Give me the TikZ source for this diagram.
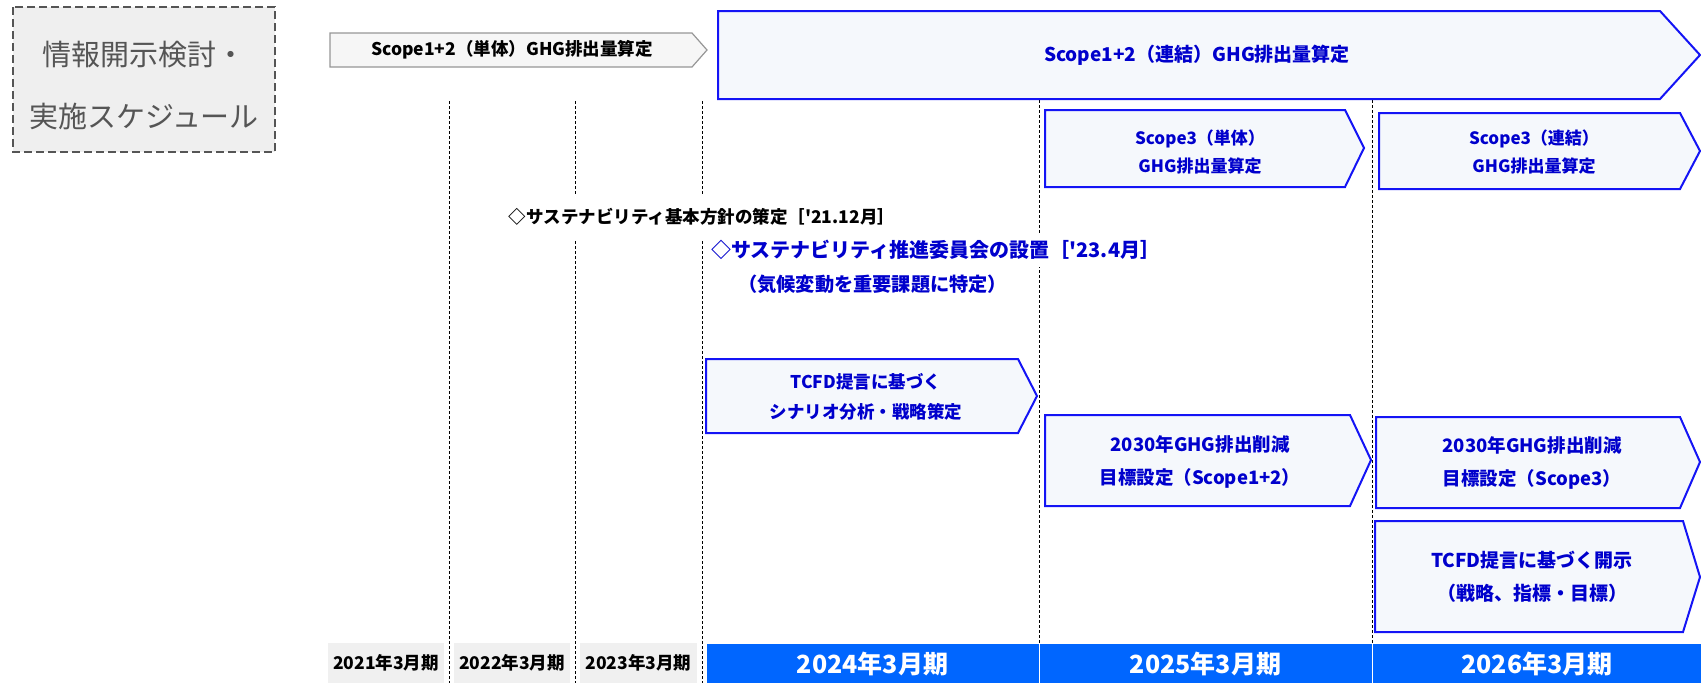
\documentclass[tikz,border=0pt]{standalone}
\usepackage{fontspec}
\newfontfamily\jpfont{Noto Sans CJK JP}
\definecolor{blueline}{RGB}{20, 20, 245}
\definecolor{bluetext}{RGB}{0, 0, 204}
\definecolor{bluefill}{RGB}{245, 248, 252}
\definecolor{yearblue}{RGB}{0, 102, 255}
\definecolor{yeargray}{RGB}{240, 240, 240}
\definecolor{titlegray}{RGB}{85, 85, 85}
\definecolor{titlefill}{RGB}{239, 239, 239}
\definecolor{arrowgray}{RGB}{150, 150, 150}
\definecolor{arrowfill}{RGB}{246, 246, 246}

\begin{document}
\begin{tikzpicture}[x=1pt, y=-1pt,
		gridline/.style={densely dashed, line width=0.7pt},
		bluebox/.style={draw=blueline, fill=bluefill, line width=2pt},
		bluelabel/.style 2 args={text=bluetext, align=center, font=\jpfont\bfseries\fontsize{#1}{#2}\selectfont},
		yearlabel/.style 2 args={text=#2, font=\jpfont\bfseries\fontsize{#1}{#1}\selectfont}]
			\useasboundingbox (0, 0) rectangle (1701, 683);
			\draw [gridline] (449, 101) -- (449, 683);
			\draw [gridline] (575, 101) -- (575, 683);
			\draw [gridline] (702, 101) -- (702, 683);
			\draw [gridline] (1039, 100) -- (1039, 643);
			\draw [gridline] (1372, 100) -- (1372, 643);
			\filldraw [draw=titlegray, fill=titlefill, line width=2pt, dash pattern=on 8pt off 4pt] (13, 7) rectangle (275, 152);
			\node [text=titlegray, align=center, font=\jpfont\fontsize{29}{62}\selectfont] (title) at (144, 86) {情報開示検討・\\実施スケジュール};
			\filldraw [draw=arrowgray, fill=arrowfill, line width=1.2pt] (330, 33) -- (692, 33) -- (707, 50) -- (692, 67) -- (330, 67) -- cycle;
			\node [font=\jpfont\bfseries\fontsize{17.5}{20}\selectfont] (singleghg) at (512, 50) {Scope1+2（単体）GHG排出量算定};
			\filldraw [bluebox] (718, 11) -- (1660, 11) -- (1700, 55) -- (1660, 99) -- (718, 99) -- cycle;
			\node [bluelabel={19}{22}] (consolghg) at (1197, 55) {Scope1+2（連結）GHG排出量算定};
			\filldraw [bluebox] (1045, 110) -- (1345, 110) -- (1364, 148) -- (1345, 187) -- (1045, 187) -- cycle;
			\node [bluelabel={17}{28}] (singlescope) at (1200, 152) {Scope3（単体）\\GHG排出量算定};
			\filldraw [bluebox] (1379, 113) -- (1680, 113) -- (1700, 151) -- (1680, 189) -- (1379, 189) -- cycle;
			\node [bluelabel={17}{28}] (consolscope) at (1534, 152) {Scope3（連結）\\GHG排出量算定};
			\node [fill=white, inner xsep=2pt, inner ysep=14pt, font=\jpfont\bfseries\fontsize{17.5}{20}\selectfont] (policy) at (702, 217) {◇サステナビリティ基本方針の策定［'21.12月］};
			\node [fill=white, anchor=west, inner xsep=0pt, inner ysep=7pt, bluelabel={20}{22}] (committee) at (711, 250) {◇サステナビリティ推進委員会の設置［'23.4月］};
			\node [anchor=west, inner xsep=0pt, bluelabel={19.2}{22}] (climate) at (738, 284) {（気候変動を重要課題に特定）};
			\filldraw [bluebox] (706, 359) -- (1018, 359) -- (1037, 396) -- (1018, 433) -- (706, 433) -- cycle;
			\node [bluelabel={17.5}{30}] (scenario) at (866, 397) {TCFD提言に基づく\\シナリオ分析・戦略策定};
			\filldraw [bluebox] (1045, 415) -- (1350, 415) -- (1371, 460) -- (1350, 506) -- (1045, 506) -- cycle;
			\node [bluelabel={18.5}{33}] (targetone) at (1200, 462) {2030年GHG排出削減\\目標設定（Scope1+2）};
			\filldraw [bluebox] (1376, 417) -- (1680, 417) -- (1700, 462) -- (1680, 508) -- (1376, 508) -- cycle;
			\node [bluelabel={18.5}{33}] (targetthree) at (1532, 463) {2030年GHG排出削減\\目標設定（Scope3）};
			\filldraw [bluebox] (1375, 521) -- (1683, 521) -- (1700, 577) -- (1683, 632) -- (1375, 632) -- cycle;
			\node [bluelabel={19}{33}] (disclosure) at (1532, 577) {TCFD提言に基づく開示\\（戦略、指標・目標）};
			\fill [yeargray] (328, 643) rectangle (444, 683) node[midway, yearlabel={17.5}{black}] (fy2021) {2021年3月期};
			\fill [yeargray] (454, 643) rectangle (570, 683) node[midway, yearlabel={17.5}{black}] (fy2022) {2022年3月期};
			\fill [yeargray] (580, 643) rectangle (697, 683) node[midway, yearlabel={17.5}{black}] (fy2023) {2023年3月期};
			\filldraw [draw=white, fill=yearblue] (706, 643) rectangle (1039, 684) node[midway, yearlabel={25}{white}] (fy2024) {2024年3月期};
			\filldraw [draw=white, fill=yearblue] (1039, 643) rectangle (1372, 684) node[midway, yearlabel={25}{white}] (fy2025) {2025年3月期};
			\filldraw [draw=white, fill=yearblue] (1372, 643) rectangle (1702, 684) node[midway, yearlabel={25}{white}] (fy2026) {2026年3月期};
		\end{tikzpicture}
\end{document}
